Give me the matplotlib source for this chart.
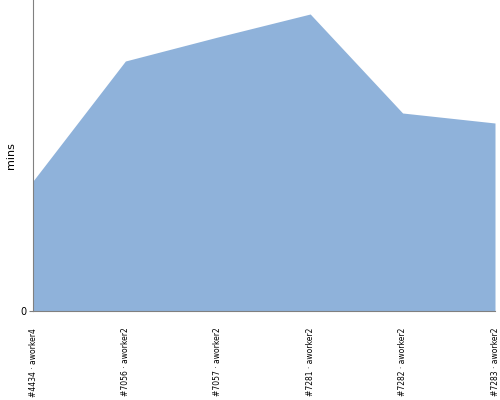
import matplotlib
matplotlib.use("Agg")
import matplotlib.pyplot as plt

builds = ["#4434 · aworker4", "#7056 · aworker2", "#7057 · aworker2",
          "#7281 · aworker2", "#7282 · aworker2", "#7283 · aworker2"]
mins = [130, 250, 274, 297, 198, 188]

FILL = "#8fb2da"
AXC = "#808080"

fig = plt.figure(figsize=(5, 4), dpi=100)
ax = fig.add_axes([33 / 500, 1 - 311 / 400, 462 / 500, 311 / 400])
x = list(range(len(builds)))
ax.fill_between(x, mins, 0, color=FILL, linewidth=0)
ax.set_xlim(0, len(builds) - 1)
ax.set_ylim(0, 311)
ax.set_yticks([0])
ax.set_yticklabels(["0"], fontsize=7)
ax.set_xticks(x)
ax.set_xticklabels(builds, rotation=90, fontsize=5.5, va="top",
                   family=["Liberation Sans Narrow", "DejaVu Sans"])
ax.tick_params(axis="x", length=0, pad=12)
ax.tick_params(axis="y", length=3, color=AXC, pad=2)
for s in ("top", "right"):
    ax.spines[s].set_visible(False)
for s in ("left", "bottom"):
    ax.spines[s].set_color(AXC)
    ax.spines[s].set_linewidth(0.8)
ax.set_ylabel("mins", fontsize=8)
ax.yaxis.set_label_coords(-0.037, 0.5)
fig.savefig("out.png", dpi=100)
